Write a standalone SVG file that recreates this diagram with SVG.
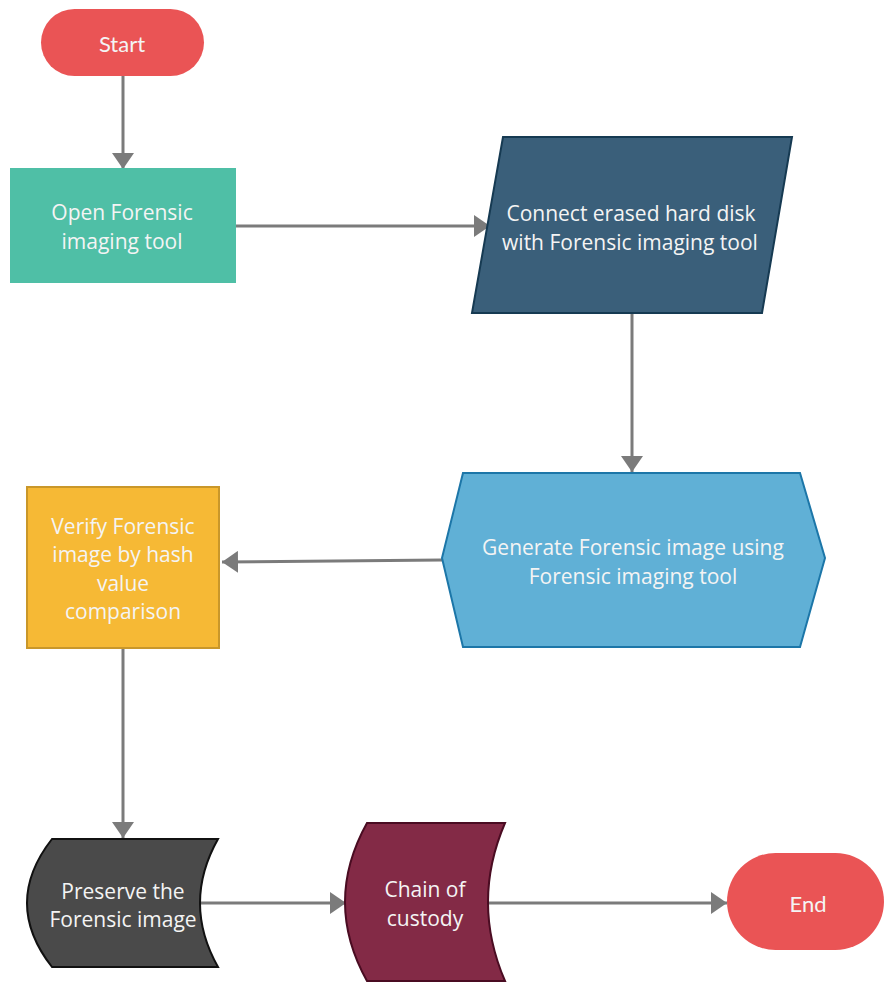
<svg xmlns="http://www.w3.org/2000/svg" width="884" height="982" viewBox="0 0 884 982">
  <style>
    .t { font-family: "Open Sans", "Noto Sans", "DejaVu Sans", sans-serif; font-size: 21px; fill: #f4f4f4; text-anchor: middle; dominant-baseline: central; }
    .tl { font-family: Lato, "Open Sans", sans-serif; font-size: 22px; fill: #f4f4f4; text-anchor: middle; dominant-baseline: central; }
    .c { fill: none; stroke: #7b7b7b; stroke-width: 3; }
  </style>
  <defs>
    <marker id="ah" markerUnits="userSpaceOnUse" markerWidth="18" markerHeight="22" refX="16" refY="11" orient="auto">
      <path d="M0,0 L16,11 L0,22 Z" fill="#7b7b7b"/>
    </marker>
  </defs>
  <rect width="884" height="982" fill="#ffffff"/>

  <g id="connectors">
    <path class="c" d="M123,76 L123,169" marker-end="url(#ah)"/>
    <path class="c" d="M236,226 L490,226" marker-end="url(#ah)"/>
    <path class="c" d="M632,313 L632,472" marker-end="url(#ah)"/>
    <path class="c" d="M442,560 L222,562" marker-end="url(#ah)"/>
    <path class="c" d="M123,648 L123,838" marker-end="url(#ah)"/>
    <path class="c" d="M200,903 L346,903" marker-end="url(#ah)"/>
    <path class="c" d="M488,903 L727,903" marker-end="url(#ah)"/>
  </g>

  <g id="start">
    <rect x="41" y="9" width="163" height="67" rx="33.5" fill="#ea5455"/>
    <text class="tl" x="122" y="43">Start</text>
  </g>

  <g id="open-tool">
    <rect x="10" y="168" width="226" height="115" fill="#4fbfa6"/>
    <text class="t" x="122" y="212">Open Forensic</text>
    <text class="t" x="122" y="241">imaging tool</text>
  </g>

  <g id="connect-disk">
    <path d="M503,137 L792,137 L762,313 L472,313 Z" fill="#3a5f7a" stroke="#163a52" stroke-width="2"/>
    <text class="t" x="631" y="213">Connect erased hard disk</text>
    <text class="t" x="630" y="242">with Forensic imaging tool</text>
  </g>

  <g id="generate-image">
    <path d="M463,473 L800,473 L825,558 L800,647 L463,647 L442,558 Z" fill="#60b0d6" stroke="#1c76a8" stroke-width="2"/>
    <text class="t" x="633" y="547">Generate Forensic image using</text>
    <text class="t" x="633" y="576">Forensic imaging tool</text>
  </g>

  <g id="verify-image">
    <rect x="27" y="487" width="192" height="161" fill="#f6b935" stroke="#c9972a" stroke-width="2"/>
    <text class="t" x="123" y="526">Verify Forensic</text>
    <text class="t" x="123" y="554">image by hash</text>
    <text class="t" x="123" y="583">value</text>
    <text class="t" x="123" y="611">comparison</text>
  </g>

  <g id="preserve-image">
    <path d="M52,839 L218,839 Q182,903 218,967 L52,967 Q2,903 52,839 Z" fill="#4a4a4a" stroke="#111111" stroke-width="2"/>
    <text class="t" x="123" y="891">Preserve the</text>
    <text class="t" x="123" y="919">Forensic image</text>
  </g>

  <g id="chain-custody">
    <path d="M367,823 L505,823 Q471,902 505,981 L367,981 Q323,902 367,823 Z" fill="#832a46" stroke="#4a0c22" stroke-width="2"/>
    <text class="t" x="425" y="889">Chain of</text>
    <text class="t" x="425" y="918">custody</text>
  </g>

  <g id="end">
    <rect x="727" y="853" width="157" height="97" rx="48.5" fill="#ea5455"/>
    <text class="tl" x="808" y="903">End</text>
  </g>
</svg>
